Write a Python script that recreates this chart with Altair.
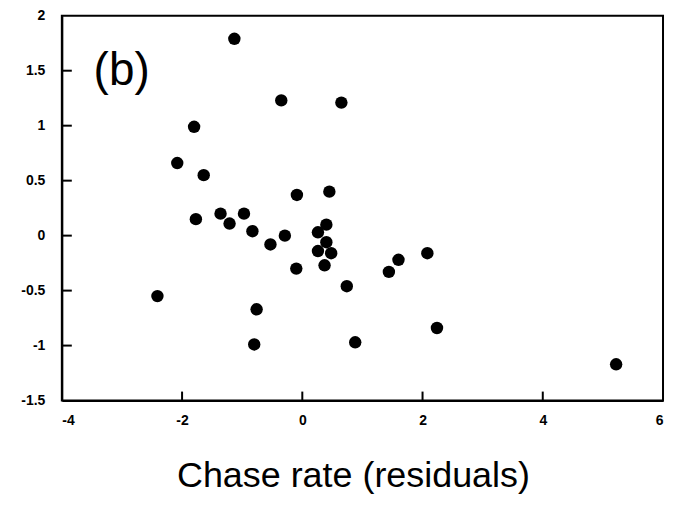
import altair as alt
import pandas as pd

# Data
chase_rate = [-1.13, -0.35, 0.65, -1.80, -2.08, -1.64, -0.09, 0.45, -1.77, -1.36,
              -1.21, -0.97, -0.83, -0.53, -0.29, 0.26, 0.40, 0.40, 0.26, 0.48,
              1.60, 2.08, -0.10, 0.37, -2.41, -0.76, -0.80, 0.74, 1.44, 2.24,
              0.88, 5.22]
response = [1.79, 1.23, 1.21, 0.99, 0.66, 0.55, 0.37, 0.40, 0.15, 0.20,
            0.11, 0.20, 0.04, -0.08, 0.00, 0.03, 0.10, -0.06, -0.14, -0.16,
            -0.22, -0.16, -0.30, -0.27, -0.55, -0.67, -0.99, -0.46, -0.33, -0.84,
            -0.97, -1.17]

x_ticks = [-4, -2, 0, 2, 4, 6]
y_ticks = [-1.5, -1, -0.5, 0, 0.5, 1, 1.5, 2]
x_inner_ticks = [-2, 0, 2, 4]
y_inner_ticks = [-1, -0.5, 0, 0.5, 1, 1.5]

df = pd.DataFrame({"x": chase_rate, "y": response})
xt = pd.DataFrame({"tx": x_inner_ticks})
yt = pd.DataFrame({"ty": y_inner_ticks})

FONT = "Liberation Sans"
W, H = 603, 386

xscale = alt.Scale(domain=[-4, 6], nice=False, zero=False)
yscale = alt.Scale(domain=[-1.5, 2], nice=False, zero=False)

xaxis = alt.Axis(values=x_ticks, labelExpr="'' + datum.value", tickSize=0,
                 grid=False, domainColor="black", domainWidth=2,
                 labelFont=FONT, labelFontSize=14, labelFontWeight="bold",
                 labelColor="black", labelPadding=13,
                 title="Chase rate (residuals)", titleFont=FONT,
                 titleFontSize=36, titleFontWeight="normal", titleColor="black",
                 titlePadding=31, titleX=292, titleAlign="center")
yaxis = alt.Axis(values=y_ticks, labelExpr="'' + datum.value", tickSize=0,
                 grid=False, domainColor="black", domainWidth=2,
                 labelFont=FONT, labelFontSize=14, labelFontWeight="bold",
                 labelColor="black", labelPadding=17, title=None)

points = alt.Chart(df).mark_circle(size=155, color="black", opacity=1).encode(
    x=alt.X("x:Q", scale=xscale, axis=xaxis),
    y=alt.Y("y:Q", scale=yscale, axis=yaxis),
)

# inward-pointing tick marks
xtick_marks = alt.Chart(xt).mark_rule(color="black", strokeWidth=2).encode(
    x=alt.X("tx:Q", scale=xscale),
    y=alt.value(H - 9),
    y2=alt.value(H),
)

ytick_marks = alt.Chart(yt).mark_rule(color="black", strokeWidth=2).encode(
    y=alt.Y("ty:Q", scale=yscale),
    x=alt.value(0),
    x2=alt.value(10),
)

label = alt.Chart(pd.DataFrame({"t": ["(b)"]})).mark_text(
    font=FONT, fontSize=46, color="black", align="center", baseline="middle"
).encode(text="t:N", x=alt.value(60), y=alt.value(55))

chart = alt.layer(points, xtick_marks, ytick_marks, label).properties(
    width=W, height=H,
    background="white",
    autosize=alt.AutoSizeParams(type="none"),
    padding={"left": 54, "top": 7, "right": 4, "bottom": 99},
).configure_view(stroke="black", strokeWidth=2)

chart.save("out.html", embed_options={"renderer": "svg", "actions": False})
